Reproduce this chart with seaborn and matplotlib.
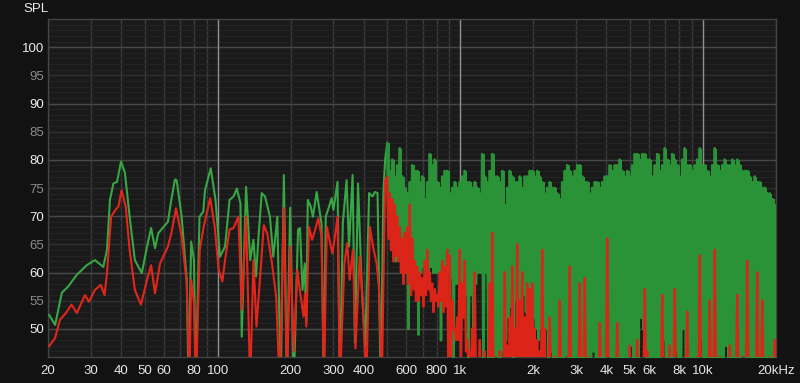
import numpy as np
import pandas as pd
import matplotlib
matplotlib.use("Agg")
import matplotlib.pyplot as plt
import seaborn as sns
from matplotlib.ticker import FixedLocator, NullFormatter

# ---------------- data ----------------
# low-frequency part, green trace (Hz, dB)
lf_green_f = [20.2, 21.4, 22.8, 24.2, 26.3, 28.9, 31.2, 33.8, 35.0, 36.0, 37.2, 38.5, 40.0, 41.5,
              43.4, 45.6, 48.7, 51.2, 53.2, 55.2, 57.0, 62.4, 64.5, 66.7, 67.8, 71.1, 74.6, 75.9,
              77.8, 79.9, 81.3, 84.2, 87.3, 88.7, 93.7, 98.0, 102.3, 107.3, 112, 116.3, 120, 124.2,
              125.7, 131, 136.2, 140.5, 144, 147.4, 152, 156.8, 164.3, 169.6, 176.2, 182, 187.5,
              193, 199, 206, 214.5, 218.5, 223.8, 228.6, 231.8, 235.3, 242, 247, 256, 268, 274,
              279, 288, 295, 300, 312, 319, 328, 340, 348, 360, 368, 379, 393, 406, 421, 435, 445,
              456, 470, 482, 490]
lf_green_db = [52.5, 50.7, 56.4, 57.5, 59.6, 61.3, 62.2, 61.0, 64.0, 72.9, 75.8, 76.1, 79.7, 77.7,
               69.9, 62.2, 59.9, 64.6, 67.9, 64.3, 67.0, 69.0, 73.0, 76.5, 76.4, 69.9, 58.7, 40,
               65.5, 62.2, 40, 69.9, 70.8, 74.6, 78.5, 72.9, 62.8, 64.6, 72.9, 73.5, 74.9, 72.3,
               48.6, 75.2, 62.2, 65.8, 59.3, 66.4, 74.1, 73.5, 69.9, 62.8, 69.9, 40, 77.3,
               40, 71.5, 40, 67.6, 67.9, 56.9, 61.6, 51.1, 72.9, 71.7, 69.9, 74.3, 68.7, 40,
               69.9, 71.7, 73.2, 71.1, 76.1, 40, 68.7, 76.4, 64.6, 77.3, 47.5, 75.8, 56.9, 46.9,
               74.1, 73.5, 74.3, 74.1, 40, 74.1, 80.0]

# low-frequency part, red trace (Hz, dB)
lf_red_f = [20.2, 21.4, 22.4, 23.7, 25.0, 26.3, 28.4, 29.5, 31.2, 33.0, 34.2, 35.0, 36.4, 37.9,
            39.0, 40.2, 41.8, 43.4, 45.6, 48.3, 51.2, 53.2, 55.2, 57.9, 62.4, 64.5, 67.4, 71.1,
            74.6, 76.5, 77.8, 79.9, 81.3, 84.4, 87.6, 93.2, 97.3, 101, 104.6, 107.3, 112, 116.3,
            121.8, 125.7, 131, 136.2, 140.5, 144.6, 149.7, 155, 160, 166.8, 174.3, 180, 187.5,
            193, 199, 206, 213, 220, 226, 229, 232, 238, 245, 250, 260, 268, 274, 282, 289, 297,
            303, 312, 319, 333, 342, 350, 361, 370, 385, 395, 410, 424, 437, 452, 462, 475, 490]
lf_red_db = [46.9, 48.4, 51.6, 52.8, 54.3, 52.8, 56.0, 54.8, 56.9, 57.8, 56.0, 59.9, 69.9, 71.1,
             71.7, 74.6, 71.7, 64.0, 56.9, 54.3, 58.7, 61.3, 56.3, 61.6, 64.6, 67.0, 71.4, 66.4,
             58.1, 40, 58.7, 54.6, 40, 64.0, 68.1, 73.2, 68.1, 60.5, 58.4, 62.2, 67.6, 67.9,
             69.9, 53.4, 69.9, 40, 62.2, 50.4, 59.3, 68.4, 67.0, 62.2, 55.7, 40, 71.4,
             40, 64.6, 46, 60.5, 55.7, 52.2, 56.3, 50.4, 68.1, 65.8, 67.0, 69.6, 66.4, 40, 68.1,
             65.8, 63.4, 65.8, 69.9, 40, 61.6, 65.2, 58.7, 64.0, 46.5, 62.8, 55.7, 40, 68.1,
             64.6, 61.6, 57.5, 40, 76.4]

# dense part 500 Hz .. 20 kHz: upper / lower excursion of each swing (dB)
green_hi = [83, 78, 80, 77, 79, 82, 77, 75, 74, 76, 79, 78, 78, 76, 77, 73, 76, 81, 79, 80,
            76, 75, 77, 78, 78, 74, 75, 76, 75, 76, 77, 78, 76, 76, 75, 76, 75, 74, 81, 77,
            76, 78, 81, 77, 77, 76, 78, 72, 75, 78, 77, 76, 76, 77, 75, 77, 77, 78, 78, 77,
            78, 77, 76, 74, 75, 76, 75, 75, 74, 73, 76, 78, 79, 78, 77, 78, 79, 79, 77, 76,
            76, 74, 75, 76, 76, 75, 76, 77, 77, 79, 78, 79, 79, 80, 78, 77, 78, 77, 79, 81,
            81, 80, 81, 81, 80, 80, 77, 79, 81, 78, 79, 82, 80, 79, 81, 80, 79, 77, 80, 82,
            79, 79, 78, 79, 80, 82, 79, 79, 78, 77, 79, 82, 79, 78, 79, 80, 79, 79, 80, 79,
            80, 79, 78, 78, 78, 77, 76, 77, 76, 76, 75, 75, 74, 74, 73, 72]
green_lo = [68, 66, 64, 62, 64, 63, 62, 60, 50, 62, 61, 60, 49, 60, 61, 60, 60, 61, 60, 60,
            60, 48, 57, 60, 60, 59, 40, 58, 58, 52, 57, 56, 40, 56, 47, 58, 60, 60, 40, 60,
            40, 44, 42, 45, 44, 42, 46, 48, 52, 54, 40, 55, 55, 54, 56, 53, 50, 48, 52, 50,
            48, 50, 46, 50, 40, 46, 40, 40, 42, 40, 40, 45, 40, 40, 43, 40, 40, 44, 40, 40,
            40, 40, 46, 40, 40, 42, 40, 40, 45, 40, 40, 40, 40, 40, 44, 40, 40, 47, 40, 40,
            40, 52, 50, 40, 40, 40, 44, 40, 40, 40, 48, 40, 40, 40, 40, 46, 40, 40, 50, 40,
            40, 40, 43, 40, 40, 48, 40, 40, 40, 44, 40, 40, 40, 40, 40, 47, 40, 40, 42, 40,
            40, 40, 45, 40, 40, 40, 40, 44, 40, 43, 40, 40, 40, 40, 44, 40]
red_hi = [77, 74, 73, 72, 70, 68, 66, 67, 68, 72, 66, 62, 61, 60, 59, 62, 64, 60, 58, 57,
          56, 60, 62, 61, 64, 63, 55, 50, 52, 64, 58, 62, 48, 46, 50, 60, 44, 48, 43, 46,
          44, 58, 67, 45, 43, 46, 44, 60, 47, 52, 61, 50, 65, 55, 60, 52, 58, 57, 58, 50,
          48, 46, 64, 50, 44, 52, 43, 45, 43, 55, 44, 42, 45, 61, 43, 44, 42, 58, 44, 59,
          43, 45, 42, 44, 42, 51, 43, 44, 66, 44, 42, 43, 51, 43, 44, 42, 43, 47, 42, 44,
          48, 43, 44, 57, 46, 42, 44, 43, 44, 42, 56, 45, 43, 47, 42, 57, 44, 43, 42, 45,
          53, 43, 44, 42, 45, 63, 44, 43, 42, 55, 44, 64, 43, 45, 42, 44, 43, 47, 42, 44,
          56, 43, 45, 42, 62, 44, 43, 42, 60, 43, 55, 44, 43, 45, 42, 48]
red_lo = [66, 64, 62, 63, 62, 60, 58, 60, 58, 56, 57, 55, 55, 56, 54, 56, 57, 55, 53, 55,
          54, 55, 53, 54, 40, 45, 50, 48, 48, 44, 52, 46, 44, 42, 44, 40] + [40] * 120

# axis ticks
x_ticks = [20, 30, 40, 50, 60, 70, 80, 90, 100, 200, 300, 400, 500, 600, 700, 800, 900,
           1000, 2000, 3000, 4000, 5000, 6000, 7000, 8000, 9000, 10000, 20000]
x_labels = ["20", "30", "40", "50", "60", "", "80", "", "100", "200", "300", "400", "", "600",
            "", "800", "", "1k", "2k", "3k", "4k", "5k", "6k", "", "8k", "", "10k", "20kHz"]
y_ticks = [50, 55, 60, 65, 70, 75, 80, 85, 90, 95, 100]
y_labels = ["50", "55", "60", "65", "70", "75", "80", "85", "90", "95", "100"]

# ---------------- build long-form tables ----------------
n = len(green_hi)
dense_f = np.geomspace(500, 20000, 2 * n)


def swings(hi, lo, name):
    """Zig-zag trace hi/lo -> individual 2-point segments."""
    y = np.empty(2 * n)
    y[0::2] = hi
    y[1::2] = lo
    k = np.arange(2 * n - 1)
    seg = np.repeat(k, 2)
    idx = np.column_stack([k, k + 1]).ravel()
    return pd.DataFrame({"freq": dense_f[idx], "spl": y[idx], "seg": seg, "trace": name})


df_lf = pd.concat([
    pd.DataFrame({"freq": lf_green_f + [500], "spl": lf_green_db + [green_hi[0]], "trace": "green"}),
    pd.DataFrame({"freq": lf_red_f + [500], "spl": lf_red_db + [red_hi[0]], "trace": "red"}),
], ignore_index=True)
df_g = swings(green_hi, green_lo, "green")
df_r = swings(red_hi, red_lo, "red")

# ---------------- style ----------------
sns.set_theme(style="dark")
plt.rcParams["font.family"] = ["Liberation Sans", "DejaVu Sans"]
plt.rcParams["path.simplify"] = False

BG = "#121212"
PLOT_BG = "#1a1a1a"
G_HF = "#2a9237"
R_HF = "#dc2418"

fig = plt.figure(figsize=(8.0, 3.83), dpi=100)
fig.patch.set_facecolor(BG)
ax = fig.add_axes([48 / 800, 1 - 357 / 383, 728 / 800, 338 / 383])
ax.set_facecolor(PLOT_BG)

sns.lineplot(data=df_lf, x="freq", y="spl", hue="trace",
             palette={"green": "#36a744", "red": "#e3261c"},
             estimator=None, sort=False, linewidth=1.5, legend=False, ax=ax, zorder=3)
# solid body of each green swing (one polygon, no seams)
ax.fill_between(dense_f[0::2], green_lo, green_hi, step="post", color=G_HF,
                linewidth=0, antialiased=False, zorder=2.9)
sns.lineplot(data=df_g, x="freq", y="spl", units="seg", color=G_HF,
             estimator=None, sort=False, linewidth=1.9, legend=False, ax=ax, zorder=3)
sns.lineplot(data=df_r, x="freq", y="spl", units="seg", color=R_HF,
             estimator=None, sort=False, linewidth=1.7, legend=False, ax=ax, zorder=3.1)

ax.set_xscale("log")
ax.set_xlim(20, 20000)
ax.set_ylim(45, 105)

ax.xaxis.set_major_locator(FixedLocator(x_ticks))
ax.set_xticklabels(x_labels)
ax.xaxis.set_minor_formatter(NullFormatter())
ax.xaxis.set_minor_locator(FixedLocator([]))
ax.yaxis.set_major_locator(FixedLocator(y_ticks))
ax.set_yticklabels(y_labels)
ax.yaxis.set_minor_locator(FixedLocator(list(range(46, 105))))

ax.tick_params(axis="both", which="both", length=0)
ax.tick_params(axis="x", colors="#e6e6e6", labelsize=9.5, pad=6)
ax.tick_params(axis="y", labelsize=9.5, pad=3)
for lbl, v in zip(ax.get_yticklabels(), y_ticks):
    lbl.set_color("#ececec" if v % 10 == 0 else "#8c8c8c")

ax.grid(False)
ax.grid(True, which="minor", axis="y", color="#232323", linewidth=0.8, zorder=0)
ax.grid(True, which="major", axis="y", color="#303030", linewidth=1.0, zorder=0)
ax.grid(True, which="major", axis="x", color="#3a3a3a", linewidth=1.0, zorder=0)
for v in range(50, 101, 10):
    ax.axhline(v, color="#474747", linewidth=1.0, zorder=1)
for v in (100, 1000, 10000):
    ax.axvline(v, color="#8e8e8e", linewidth=1.0, zorder=1)
ax.set_axisbelow(True)

for s in ax.spines.values():
    s.set_color("#444444")
    s.set_linewidth(1.0)

ax.set_xlabel("")
ax.set_ylabel("")
fig.text(23 / 800, 1 - 9 / 383, "SPL", color="#ececec", fontsize=9.5, va="center", ha="left")

fig.savefig("out.png", dpi=100, facecolor=BG)
